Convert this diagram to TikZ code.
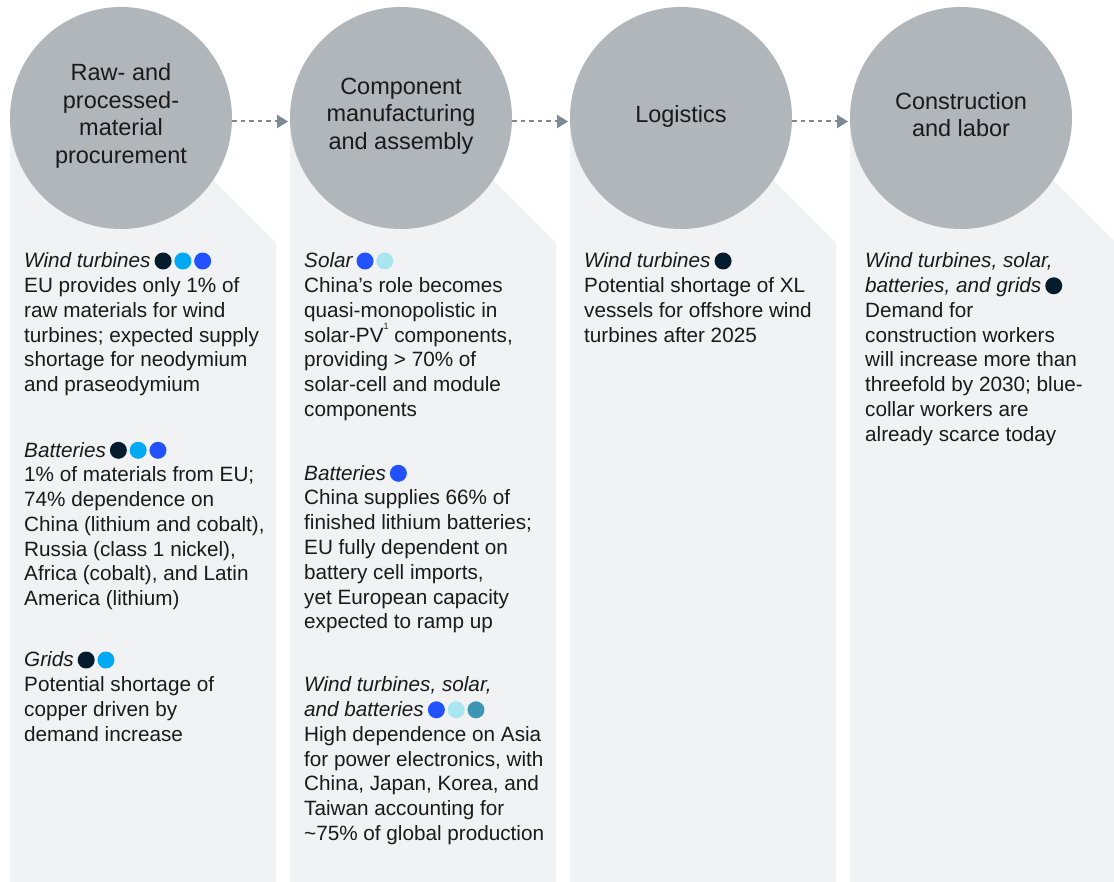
\documentclass[tikz,border=0pt]{standalone}
\usepackage{fontspec}
\setmainfont{Liberation Sans}
\usetikzlibrary{arrows.meta,calc}

\definecolor{stagefill}{HTML}{B1B6BB}
\definecolor{panelfill}{HTML}{F1F2F4}
\definecolor{flowgray}{HTML}{7F8B94}
\definecolor{inktext}{HTML}{1A1A1A}
\definecolor{dotnavy}{HTML}{051C2C}
\definecolor{dotcyan}{HTML}{00A9F4}
\definecolor{dotblue}{HTML}{2251FF}
\definecolor{dotpale}{HTML}{AAE6F0}
\definecolor{dotteal}{HTML}{3C96B4}

% row of coloured category dots after a heading node
\newcommand\colordots[2]{%
  \foreach \dc [count=\k from 0] in {#2}
    \fill[\dc] ($(#1.base east)+(12.3+19.8*\k,-6.7)$) circle (8.5);}
% small footnote mark
\newcommand\fnmark[1]{\raisebox{0.62em}{\fontsize{9}{9}\selectfont #1}}

\begin{document}
\begin{tikzpicture}[x=1pt,y=-1pt,
  stage/.style={circle, fill=stagefill, minimum size=222pt, inner sep=0pt},
  stagetext/.style={align=center, text=inktext, inner sep=0pt,
    font=\fontsize{23.5}{27.7}\selectfont},
  panel/.style={fill=panelfill},
  head/.style={anchor=base west, inner sep=0pt, text=inktext,
    font=\fontsize{20.7}{24.8}\selectfont\itshape},
  body/.style={anchor=base west, inner sep=0pt, text=inktext,
    font=\fontsize{20.7}{24.8}\selectfont},
  flow/.style={draw=flowgray, line width=2pt, dash pattern=on 4.5pt off 4pt,
    -{Triangle[length=11pt,width=13pt]}},
]
\useasboundingbox (0,0) rectangle (1114,882);
\fill[white] (0,0) rectangle (1114,882);
\clip (0,0) rectangle (1114,882);

% column panels with the cut upper-right corner
\foreach \i in {0,1,2,3}{
  \pgfmathsetmacro\cx{121+280*\i}
  \fill[panel] (\cx-111,118) -- (\cx+30,118) -- (\cx+155,243)
    -- (\cx+155,882) -- (\cx-111,882) -- cycle;
}

% value-chain stages
\node[stage] (c1) at (121,118) {};
\node[stage] (c2) at (401,118) {};
\node[stage] (c3) at (681,118) {};
\node[stage] (c4) at (961,118) {};

\node[stagetext] (s1) at ($(c1)+(0,-2)$) {Raw- and\\processed-\\material\\procurement};
\node[stagetext] (s2) at ($(c2)+(0,-2)$) {Component\\manufacturing\\and assembly};
\node[stagetext] (s3) at ($(c3)+(0,-2)$) {Logistics};
\node[stagetext] (s4) at ($(c4)+(0,-3.5)$) {Construction\\and labor};

\draw[flow] ($(c1.east)+(0,3.5)$) -- ($(c2.west)+(-1.7,3.5)$);
\draw[flow] ($(c2.east)+(0,3.5)$) -- ($(c3.west)+(-1.7,3.5)$);
\draw[flow] ($(c3.east)+(0,3.5)$) -- ($(c4.west)+(-1.7,3.5)$);

% column 1
\node[head] (h1a) at (24,267.7) {Wind turbines};
\colordots{h1a}{dotnavy,dotcyan,dotblue}
\node[body] (b1a) at (24,292.5) {\parbox[t]{280pt}{\raggedright
  EU provides only 1\% of\\raw materials for wind\\turbines; expected supply\\shortage for neodymium\\and praseodymium}};
\node[head] (h1b) at (24,457) {Batteries};
\colordots{h1b}{dotnavy,dotcyan,dotblue}
\node[body] (b1b) at (24,481.8) {\parbox[t]{280pt}{\raggedright
  1\% of materials from EU;\\74\% dependence on\\China (lithium and cobalt),\\Russia (class 1 nickel),\\Africa (cobalt), and Latin\\America (lithium)}};
\node[head] (h1c) at (24,666.7) {Grids};
\colordots{h1c}{dotnavy,dotcyan}
\node[body] (b1c) at (24,691.5) {\parbox[t]{280pt}{\raggedright
  Potential shortage of\\copper driven by\\demand increase}};

% column 2
\node[head] (h2a) at (304,267.7) {Solar};
\colordots{h2a}{dotblue,dotpale}
\node[body] (b2a) at (304,292.5) {\parbox[t]{280pt}{\raggedright
  China’s role becomes\\quasi-monopolistic in\\solar-PV\fnmark{1} components,\\providing > 70\% of\\solar-cell and module\\components}};
\node[head] (h2b) at (304,480) {Batteries};
\colordots{h2b}{dotblue}
\node[body] (b2b) at (304,504.8) {\parbox[t]{280pt}{\raggedright
  China supplies 66\% of\\finished lithium batteries;\\EU fully dependent on\\battery cell imports,\\yet European capacity\\expected to ramp up}};
\node[head] (h2c) at (304,691.7) {Wind turbines, solar,};
\node[head] (h2d) at (304,716.5) {and batteries};
\colordots{h2d}{dotblue,dotpale,dotteal}
\node[body] (b2c) at (304,741.3) {\parbox[t]{280pt}{\raggedright
  High dependence on Asia\\for power electronics, with\\China, Japan, Korea, and\\Taiwan accounting for\\\textasciitilde 75\% of global production}};

% column 3
\node[head] (h3a) at (584,267.7) {Wind turbines};
\colordots{h3a}{dotnavy}
\node[body] (b3a) at (584,292.5) {\parbox[t]{280pt}{\raggedright
  Potential shortage of XL\\vessels for offshore wind\\turbines after 2025}};

% column 4
\node[head] (h4a) at (865,267.7) {Wind turbines, solar,};
\node[head] (h4b) at (865,292.5) {batteries, and grids};
\colordots{h4b}{dotnavy}
\node[body] (b4a) at (865,317.3) {\parbox[t]{280pt}{\raggedright
  Demand for\\construction workers\\will increase more than\\threefold by 2030; blue-\\collar workers are\\already scarce today}};
\end{tikzpicture}
\end{document}
